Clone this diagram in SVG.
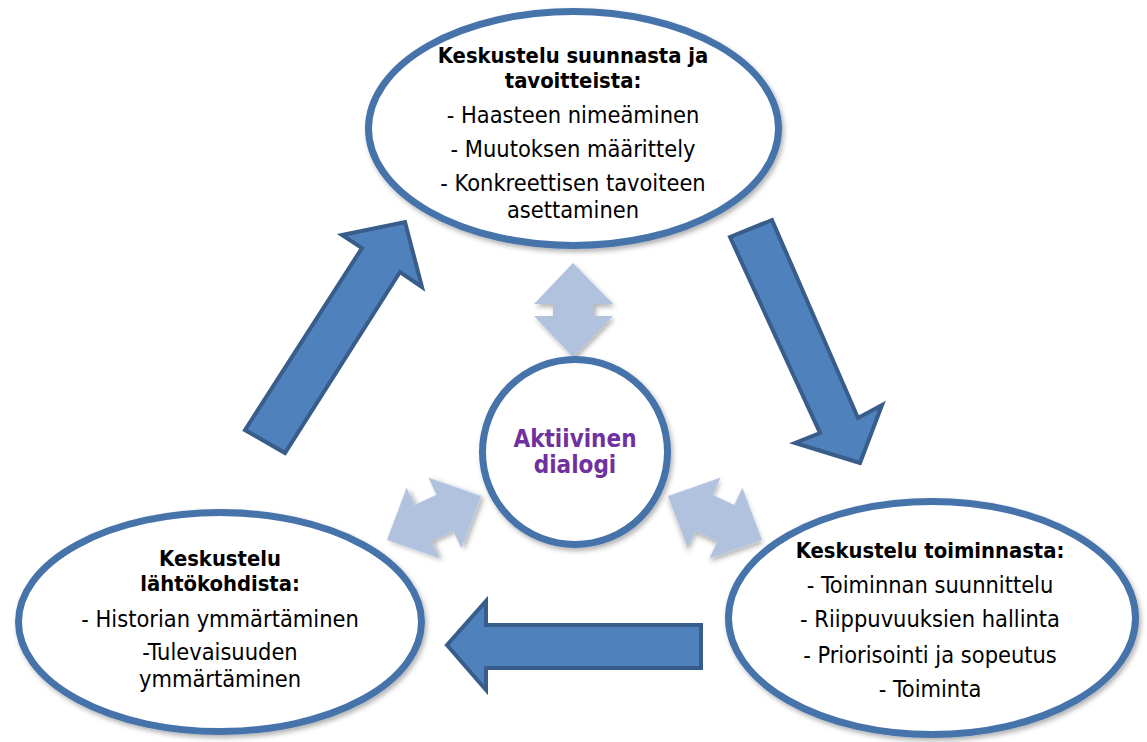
<svg xmlns="http://www.w3.org/2000/svg" width="1147" height="742" viewBox="0 0 1147 742">
<defs>
<filter id="sh" x="-20%" y="-20%" width="140%" height="140%">
<feDropShadow dx="2" dy="3" stdDeviation="2.5" flood-color="#000" flood-opacity="0.3"/>
</filter>
<path id="dbl" d="M52,0 L12,-39 L12,-20 L-12,-20 L-12,-39 L-52,0 L-12,39 L-12,20 L12,20 L12,39 Z"/>
</defs>
<style>
.node{fill:#fff;stroke:#4673AB;stroke-width:7;filter:url(#sh)}
.big{fill:#4F81BD;stroke:#385D8A;stroke-width:4;stroke-linejoin:miter}
.lite{fill:#B0C2DE;stroke:none;filter:url(#sh)}
text{font-family:"DejaVu Sans Condensed","DejaVu Sans",sans-serif;font-stretch:condensed;font-size:23.4px;fill:#000;text-anchor:middle}
.b{font-weight:bold;font-size:21.8px}
.p{fill:#7030A0;font-weight:bold;font-size:24px}
</style>
<rect width="1147" height="742" fill="#fff"/>
<g id="connectors">
<polygon class="big" points="245,430 362,248 342,235 405,222 422,287 400,272 285,453"/>
<polygon class="big" points="730,237 820,433 795,443 860,463 882,405 858,418 772,220"/>
<polygon class="big" points="447,645 486,601 486,625 701,625 701,668 486,668 486,690"/>
<path class="lite" d="M573,263 L613,304 L594,304 L594,316 L613,316 L573,357 L534,316 L553,316 L553,304 L534,304 Z"/>
<use href="#dbl" class="lite" transform="translate(434,518) rotate(-25)"/>
<use href="#dbl" class="lite" transform="translate(715,518) rotate(25)"/>
</g>
<g id="node-top">
<ellipse class="node" cx="573.5" cy="128.5" rx="205" ry="117"/>
<text class="b" x="573" y="63">Keskustelu suunnasta ja</text>
<text class="b" x="573" y="88">tavoitteista:</text>
<text x="573" y="123">- Haasteen nimeäminen</text>
<text x="573" y="157">- Muutoksen määrittely</text>
<text x="573" y="190.5">- Konkreettisen tavoiteen</text>
<text x="573" y="218">asettaminen</text>
</g>
<g id="node-center">
<circle class="node" cx="575" cy="452" r="92.5"/>
<text class="p" x="575" y="447">Aktiivinen</text>
<text class="p" x="575" y="473">dialogi</text>
</g>
<g id="node-left">
<ellipse class="node" cx="220" cy="622" rx="201.5" ry="109.5"/>
<text class="b" x="220" y="566">Keskustelu</text>
<text class="b" x="220" y="591">lähtökohdista:</text>
<text x="220" y="627">- Historian ymmärtäminen</text>
<text x="220" y="659.5">-Tulevaisuuden</text>
<text x="220" y="687">ymmärtäminen</text>
</g>
<g id="node-right">
<ellipse class="node" cx="932" cy="618" rx="203.5" ry="116.5"/>
<text class="b" x="930" y="558">Keskustelu toiminnasta:</text>
<text x="930" y="593">- Toiminnan suunnittelu</text>
<text x="930" y="627">- Riippuvuuksien hallinta</text>
<text x="930" y="663">- Priorisointi ja sopeutus</text>
<text x="930" y="697">- Toiminta</text>
</g>
</svg>
